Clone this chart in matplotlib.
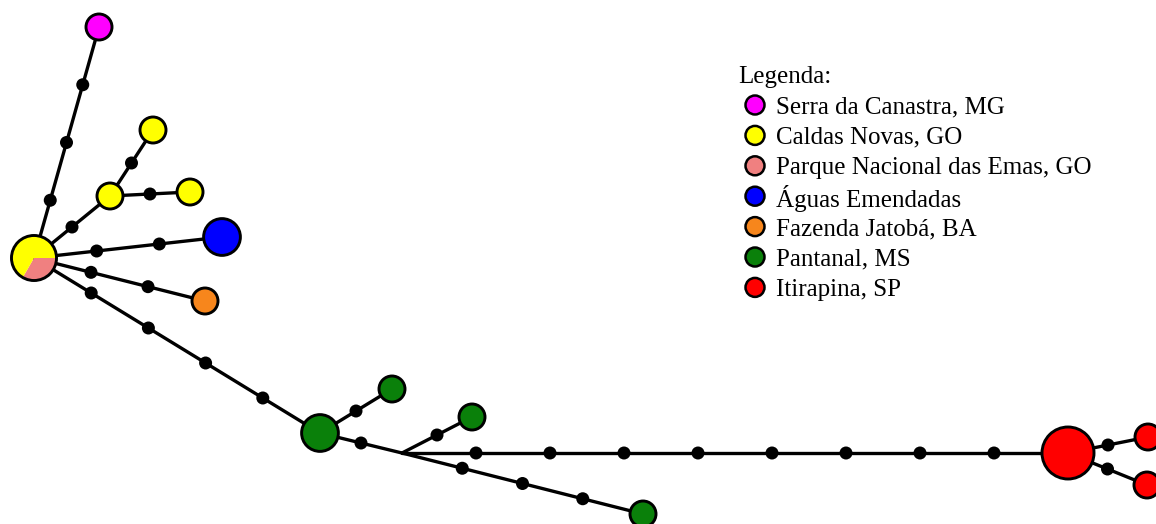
import matplotlib.pyplot as plt
from matplotlib.patches import Circle, Wedge
import numpy as np

plt.rcParams['font.family'] = ['Liberation Serif', 'DejaVu Serif']

# Populations (legend order) and their colours
pop_names = ['Serra da Canastra, MG', 'Caldas Novas, GO', 'Parque Nacional das Emas, GO',
             'Águas Emendadas', 'Fazenda Jatobá, BA', 'Pantanal, MS', 'Itirapina, SP']
pop_colors = ['#FF00FF', '#FFFF00', '#F08080', '#0000FF', '#F7861C', '#0A800A', '#FF0000']

# Haplotype layout (x, y) and sample counts per population
# node 9 is a median vector (no samples)
hap_x = [34, 99, 110, 153, 190, 222, 205, 320, 392, 402, 472, 643, 1068, 1148, 1147]
hap_y = [266, 497, 328, 394, 332, 287, 223, 91, 135, 71, 107, 10, 71, 87, 39]
hap_counts = [
    {1: 2, 2: 1},
    {0: 1},
    {1: 1},
    {1: 1},
    {1: 1},
    {3: 2},
    {4: 1},
    {5: 2},
    {5: 1},
    {},
    {5: 1},
    {5: 1},
    {6: 4},
    {6: 1},
    {6: 1},
]

# Links: (haplotype a, haplotype b, number of mutational steps in between)
links = [(0, 1, 3), (0, 2, 1), (2, 3, 1), (2, 4, 1), (0, 5, 2), (0, 6, 2),
         (0, 7, 4), (7, 8, 1), (7, 9, 1), (9, 10, 1), (9, 11, 3), (9, 12, 8),
         (12, 13, 1), (12, 14, 1)]

fig = plt.figure(figsize=(11.56, 5.24), dpi=100)
ax = fig.add_axes([0, 0, 1, 1])
ax.set_xlim(0, 1156)
ax.set_ylim(0, 524)
ax.axis('off')

# edges and mutation dots
for a, b, steps in links:
    x0, y0, x1, y1 = hap_x[a], hap_y[a], hap_x[b], hap_y[b]
    ax.plot([x0, x1], [y0, y1], color='black', lw=2.4, zorder=1, solid_capstyle='round')
    for tt in np.arange(1, steps + 1) / (steps + 1):
        ax.add_patch(Circle((x0 + (x1 - x0) * tt, y0 + (y1 - y0) * tt), 6.5,
                            facecolor='black', edgecolor='none', zorder=2))

# haplotype circles (pie when shared between populations)
for x, y, counts in zip(hap_x, hap_y, hap_counts):
    n = sum(counts.values())
    if n == 0:
        continue
    r = 13 * np.sqrt(n)
    if len(counts) == 1:
        pop = list(counts)[0]
        ax.add_patch(Circle((x, y), r, facecolor=pop_colors[pop], edgecolor='none', zorder=3))
    else:
        start = 0
        for pop, c in sorted(counts.items(), key=lambda kv: -kv[0]):
            span = 360 * c / n
            ax.add_patch(Wedge((x, y), r, start - span, start,
                               facecolor=pop_colors[pop], edgecolor='none', zorder=3))
            start -= span
    ax.add_patch(Circle((x, y), r, facecolor='none', edgecolor='black', lw=2.1, zorder=4))

# legend
ax.text(738, 449, 'Legenda:', fontsize=18, va='center_baseline', ha='left')
for i, (name, color) in enumerate(zip(pop_names, pop_colors)):
    yy = 419 - i * 30.4
    ax.add_patch(Circle((755, yy), 9.5, facecolor=color, edgecolor='black', lw=1.8, zorder=4))
    ax.text(776, yy, name, fontsize=18, va='center_baseline', ha='left')

fig.savefig('out.png', dpi=100)
